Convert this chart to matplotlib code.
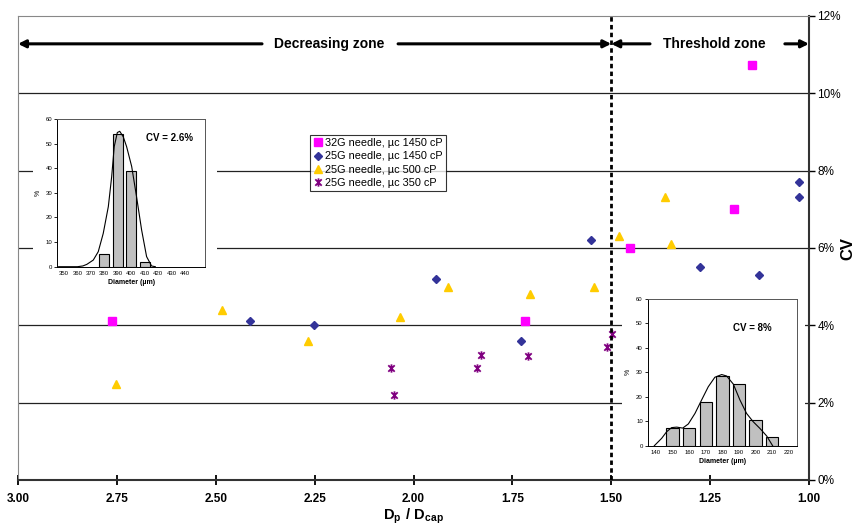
import matplotlib
matplotlib.use("Agg")
import matplotlib.pyplot as plt
from matplotlib.path import Path
from matplotlib.patches import Rectangle
from matplotlib.ticker import FuncFormatter

plt.rcParams["font.family"] = ["Liberation Sans", "DejaVu Sans"]
plt.rcParams["mathtext.fontset"] = "custom"
plt.rcParams["mathtext.rm"] = "Liberation Sans"
plt.rcParams["mathtext.bf"] = "Liberation Sans:bold"

# main scatter: Dp/Dcap vs CV (%)
pink_x = [2.762, 1.717, 1.453, 1.190, 1.144]
pink_y = [4.10, 4.11, 6.01, 7.02, 10.73]
blue_x = [2.413, 2.252, 1.944, 1.729, 1.552, 1.275, 1.126, 1.025, 1.025]
blue_y = [4.10, 4.01, 5.21, 3.60, 6.21, 5.51, 5.30, 7.71, 7.32]
yel_x = [2.752, 2.483, 2.267, 2.033, 1.914, 1.705, 1.544, 1.480, 1.363, 1.348]
yel_y = [2.49, 4.40, 3.59, 4.21, 5.00, 4.80, 5.00, 6.31, 7.31, 6.10]
pur_x = [2.056, 2.049, 1.840, 1.829, 1.710, 1.510, 1.497]
pur_y = [2.90, 2.20, 2.90, 3.24, 3.20, 3.45, 3.77]
labels = ["32G needle, µc 1450 cP", "25G needle, µc 1450 cP",
          "25G needle, µc 500 cP", "25G needle, µc 350 cP"]

x_ticks = [3.00, 2.75, 2.50, 2.25, 2.00, 1.75, 1.50, 1.25, 1.00]
y_ticks = [0, 2, 4, 6, 8, 10, 12]
threshold = 1.50

# inset histograms
left_bins = [350, 360, 370, 380, 390, 400, 410, 420, 430, 440]
left_bar_d = [380, 390, 400, 410]
left_bar_pct = [5.0, 53.8, 39.0, 2.0]
left_fit_d = [346, 360, 364, 367, 371.8, 375.5, 379.2, 383, 385.5, 387.4,
              389.7, 391.5, 394.1, 396.6, 400.4, 404, 407.8, 411.5, 415.2, 418]
left_fit_pct = [0, 0, 0.3, 0.95, 2.7, 6.1, 13.5, 24.4, 36.6, 48.8,
                54.5, 55, 52.8, 48.8, 40.7, 28.5, 14.9, 4.1, 0.3, 0]

right_bins = [140, 150, 160, 170, 180, 190, 200, 210, 220]
right_bar_d = [150, 160, 170, 180, 190, 200, 210]
right_bar_pct = [7.4, 7.4, 18.0, 28.6, 25.1, 10.6, 3.7]
right_fit_d = [139.0, 143.4, 146.4, 149.4, 152.5, 156.1, 159.5, 163.5, 167.5,
               171.5, 175.5, 179.6, 182.6, 186.6, 190.6, 194.6, 198.6, 202.6,
               206.7, 210.3]
right_fit_pct = [0, 3.0, 5.7, 7.4, 7.6, 7.2, 8.9, 13.2, 18.7,
                 24.1, 28.0, 29.1, 28.5, 25.2, 18.7, 13.2, 9.8, 7.1,
                 4.0, 0]

W, H = 856, 527
fig = plt.figure(figsize=(W / 100, H / 100), dpi=100)

def fr(x0, y0, x1, y1):
    # pixel box -> figure fraction rect
    return [x0 / W, 1 - y1 / H, (x1 - x0) / W, (y1 - y0) / H]

ax = fig.add_axes(fr(18, 16, 809, 480))
ax.set_xlim(3.0, 1.0)
ax.set_ylim(0, 12)

for v in y_ticks[1:-1]:
    ax.axhline(v, color="#222222", lw=0.9, zorder=1)

star = Path([(-1, -1), (1, 1), (1, -1), (-1, 1), (0, -1.3), (0, 1.3)],
            [Path.MOVETO, Path.LINETO, Path.MOVETO, Path.LINETO, Path.MOVETO, Path.LINETO])

ax.plot(pink_x, pink_y, "s", ms=5.5, color="#FF00FF", ls="none", label=labels[0], zorder=3)
ax.plot(blue_x, blue_y, "D", ms=4.5, color="#333399", ls="none", label=labels[1], zorder=3)
ax.plot(yel_x, yel_y, "^", ms=6, color="#FFCC00", ls="none", label=labels[2], zorder=3)
ax.plot(pur_x, pur_y, marker=star, ms=6, mfc="none", mec="#800080", mew=1.3,
        ls="none", label=labels[3], zorder=3)

ax.axvline(threshold, color="black", lw=2, ls=(0, (1.6, 1.2)), zorder=4)

# zone arrows
ya = 11.28
arr = dict(arrowstyle="-|>", lw=2.2, color="black", mutation_scale=11, shrinkA=0, shrinkB=0)
ax.annotate("", xy=(3.0, ya), xytext=(2.383, ya), arrowprops=arr)
ax.annotate("", xy=(threshold, ya), xytext=(2.039, ya), arrowprops=arr)
ax.annotate("", xy=(threshold, ya), xytext=(1.402, ya), arrowprops=arr)
ax.annotate("", xy=(1.0, ya), xytext=(1.061, ya), arrowprops=arr)
ax.text(2.212, ya, "Decreasing zone", ha="center", va="center", fontsize=10, fontweight="bold")
ax.text(1.240, ya, "Threshold zone", ha="center", va="center", fontsize=10, fontweight="bold")

ax.set_xticks(x_ticks)
ax.xaxis.set_major_formatter(FuncFormatter(lambda v, p: f"{v:.2f}"))
ax.set_yticks(y_ticks)
ax.yaxis.set_major_formatter(FuncFormatter(lambda v, p: f"{v:.0f}%"))
ax.yaxis.tick_right()
ax.tick_params(axis="x", direction="inout", length=7, width=1.3, labelsize=8.5, pad=6)
ax.tick_params(axis="y", direction="out", length=4, width=1.0, labelsize=8.5, pad=2)
for t in ax.get_xticklabels():
    t.set_fontweight("bold")
ax.spines["left"].set_color("#888888")
ax.spines["left"].set_linewidth(0.8)
ax.spines["top"].set_color("#888888")
ax.spines["top"].set_linewidth(0.8)
ax.spines["right"].set_color("#333333")
ax.spines["right"].set_linewidth(1.5)
ax.spines["bottom"].set_color("#333333")
ax.spines["bottom"].set_linewidth(1.5)

ax.set_xlabel(r"$\mathbf{D_p\ /\ D_{cap}}$", fontsize=10.5, labelpad=1)
fig.text(848 / W, 1 - 248 / H, "CV", rotation=90, ha="center", va="center",
         fontsize=12, fontweight="bold")

leg = ax.legend(loc="upper left", bbox_to_anchor=(310 / W, 1 - 135 / H),
                bbox_transform=fig.transFigure, fontsize=7.8, frameon=True,
                fancybox=False, edgecolor="black", borderpad=0.3,
                handlelength=0.8, handletextpad=0.3, labelspacing=0.3,
                borderaxespad=0)
leg.get_frame().set_linewidth(0.8)
leg.set_zorder(6)

# white backgrounds behind the insets
fig.add_artist(Rectangle((33 / W, 1 - 305 / H), 184 / W, 205 / H, transform=fig.transFigure,
                         facecolor="white", edgecolor="none", zorder=0.5))
fig.add_artist(Rectangle((622 / W, 1 - 472 / H), 183 / W, 184 / H, transform=fig.transFigure,
                         facecolor="white", edgecolor="none", zorder=0.5))

def inset(rect, bins, xlim, bar_d, bar_pct, fit_d, fit_pct, cv_text, cv_xy):
    ia = fig.add_axes(rect, zorder=2)
    step = bins[1] - bins[0]
    ia.bar(bar_d, bar_pct, width=step * 0.75, color="#C0C0C0", edgecolor="black", lw=0.8)
    ia.plot(fit_d, fit_pct, color="black", lw=0.8)
    ia.set_xlim(*xlim)
    ia.set_ylim(0, 60)
    ia.set_xticks(bins)
    ia.set_yticks([0, 10, 20, 30, 40, 50, 60])
    ia.tick_params(axis="x", length=0, labelsize=4.3, pad=3)
    ia.tick_params(axis="y", length=2, width=0.6, labelsize=4.3, pad=1.5)
    for s in ia.spines.values():
        s.set_linewidth(0.7)
    ia.spines["right"].set_color("#555555")
    ia.spines["top"].set_color("#555555")
    ia.set_xlabel("Diameter (µm)", fontsize=5, fontweight="bold", labelpad=2)
    ia.set_ylabel("%", fontsize=5, labelpad=3)
    ia.text(cv_xy[0], cv_xy[1], cv_text, ha="center", va="center", fontsize=7, fontweight="bold")
    return ia

inset(fr(57.3, 119, 205, 266.7), left_bins, (345, 455), left_bar_d, left_bar_pct,
      left_fit_d, left_fit_pct, "CV = 2.6%", (428.5, 52.3))
inset(fr(647.7, 299, 797, 445.7), right_bins, (135, 225), right_bar_d, right_bar_pct,
      right_fit_d, right_fit_pct, "CV = 8%", (198.0, 48.2))

fig.savefig("out.png", dpi=100)
